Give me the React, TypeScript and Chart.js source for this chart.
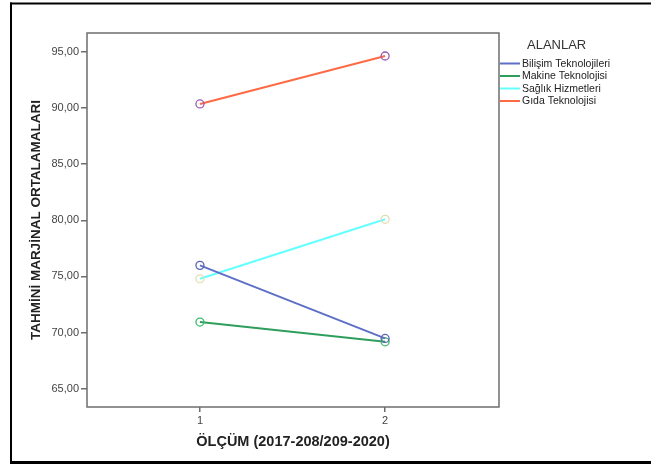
import React, { useEffect, useRef } from 'react';
import { Chart, registerables } from 'chart.js';

Chart.register(...registerables);

const xCategories = [1, 2];
const xTickLabels = ['1', '2'];
const yTickValues = [65, 70, 75, 80, 85, 90, 95];
const seriesNames = ['Bilişim Teknolojileri', 'Makine Teknolojisi', 'Sağlık Hizmetleri', 'Gıda Teknolojisi'];
const bilisim = [75.99, 69.48];
const makine = [70.94, 69.18];
const saglik = [74.79, 80.09];
const gida = [90.37, 94.64];
const seriesValues = [bilisim, makine, saglik, gida];
const lineColors = ['#5d70c6', '#2f9e5c', '#66ffff', '#ff6a45'];
const markerColors = ['#5a62b2', '#3dba6a', '#e3dcb0', '#9a58b4'];
const legendTitle = 'ALANLAR';
const yTitle = 'TAHMİNİ MARJİNAL ORTALAMALARI';
const xTitle = 'ÖLÇÜM (2017-208/209-2020)';

const FONT = '"Liberation Sans", Arial, sans-serif';

const decor = {
  id: 'decor',
  beforeDraw(chart: any) {
    const ctx = chart.ctx;
    ctx.save();
    ctx.fillStyle = '#ffffff';
    ctx.fillRect(0, 0, chart.width, chart.height);
    ctx.restore();
  },
  beforeDatasetsDraw(chart: any) {
    const ctx = chart.ctx;
    const a = chart.chartArea;
    ctx.save();
    ctx.strokeStyle = '#6e6e6e';
    ctx.lineWidth = 1.5;
    ctx.strokeRect(a.left, a.top, a.right - a.left, a.bottom - a.top);
    ctx.restore();
  },
  afterDraw(chart: any) {
    const ctx = chart.ctx;
    ctx.save();
    // outer frame
    ctx.fillStyle = '#000000';
    ctx.fillRect(10, 2.5, chart.width - 10, 2);
    ctx.fillRect(10, 2.5, 2, chart.height - 2.5);
    ctx.fillRect(10, chart.height - 3, chart.width - 10, 3);
    // legend
    const a = chart.chartArea;
    const lx = a.right + 1;
    ctx.font = `13px ${FONT}`;
    ctx.fillStyle = '#333333';
    ctx.textBaseline = 'middle';
    ctx.textAlign = 'left';
    ctx.fillText(legendTitle, lx + 27, 45);
    chart.data.datasets.forEach((ds: any, i: number) => {
      const y = 63.5 + i * 12.5;
      ctx.strokeStyle = ds.borderColor;
      ctx.lineWidth = 2;
      ctx.beginPath();
      ctx.moveTo(lx, y);
      ctx.lineTo(lx + 20, y);
      ctx.stroke();
      ctx.font = `10.5px ${FONT}`;
      ctx.fillStyle = '#222222';
      ctx.fillText(ds.label, lx + 22, y + 0.5);
    });
    ctx.restore();
  },
};

export default function App() {
  const ref = useRef<HTMLCanvasElement | null>(null);
  useEffect(() => {
    document.body.style.margin = '0';
    if (!ref.current) return;
    const chart = new Chart(ref.current, {
      type: 'line',
      data: {
        datasets: seriesNames.map((name, i) => ({
          label: name,
          data: xCategories.map((x, j) => ({ x, y: seriesValues[i][j] })),
          borderColor: lineColors[i],
          borderWidth: 2,
          pointStyle: 'circle',
          pointRadius: 4,
          pointBorderWidth: 1.3,
          pointBorderColor: markerColors[i],
          pointBackgroundColor: 'rgba(0,0,0,0)',
          tension: 0,
          fill: false,
        })),
      },
      options: {
        animation: false,
        responsive: false,
        maintainAspectRatio: false,
        layout: { padding: { left: 0, right: 152, top: 33, bottom: 0 } },
        plugins: { legend: { display: false }, tooltip: { enabled: false } },
        scales: {
          x: {
            type: 'linear',
            min: 0.39,
            max: 2.615,
            afterBuildTicks: (scale: any) => {
              scale.ticks = xCategories.map((v) => ({ value: v }));
            },
            afterFit: (scale: any) => {
              scale.height = 57;
            },
            ticks: {
              autoSkip: false,
              maxRotation: 0,
              padding: 2,
              color: '#444444',
              font: { family: FONT, size: 11 },
              callback: (v: any) => xTickLabels[xCategories.indexOf(Number(v))] ?? '',
            },
            grid: { display: true, drawOnChartArea: false, drawTicks: true, tickLength: 5, color: '#6e6e6e', lineWidth: 1.5 },
            border: { display: false },
            title: {
              display: true,
              text: xTitle,
              color: '#222222',
              font: { family: FONT, size: 14.5, weight: 'bold' },
              padding: { top: 0, bottom: 13 },
            },
          },
          y: {
            type: 'linear',
            min: 63.37,
            max: 96.69,
            afterBuildTicks: (scale: any) => {
              scale.ticks = yTickValues.map((v) => ({ value: v }));
            },
            afterFit: (scale: any) => {
              scale.width = 87;
            },
            ticks: {
              padding: 2,
              color: '#444444',
              font: { family: FONT, size: 11 },
              callback: (v: any) => Number(v).toFixed(2).replace('.', ','),
            },
            grid: { display: true, drawOnChartArea: false, drawTicks: true, tickLength: 6, color: '#6e6e6e', lineWidth: 1.5 },
            border: { display: false },
            title: {
              display: true,
              text: yTitle,
              color: '#222222',
              font: { family: FONT, size: 13.5, weight: 'bold' },
              padding: { top: 28, bottom: 0 },
            },
          },
        },
      },
      plugins: [decor],
    } as any);
    return () => chart.destroy();
  }, []);
  return (
    <div style={{ width: 651, height: 464 }}>
      <canvas ref={ref} width={651} height={464} style={{ display: 'block', width: 651, height: 464 }} />
    </div>
  );
}
